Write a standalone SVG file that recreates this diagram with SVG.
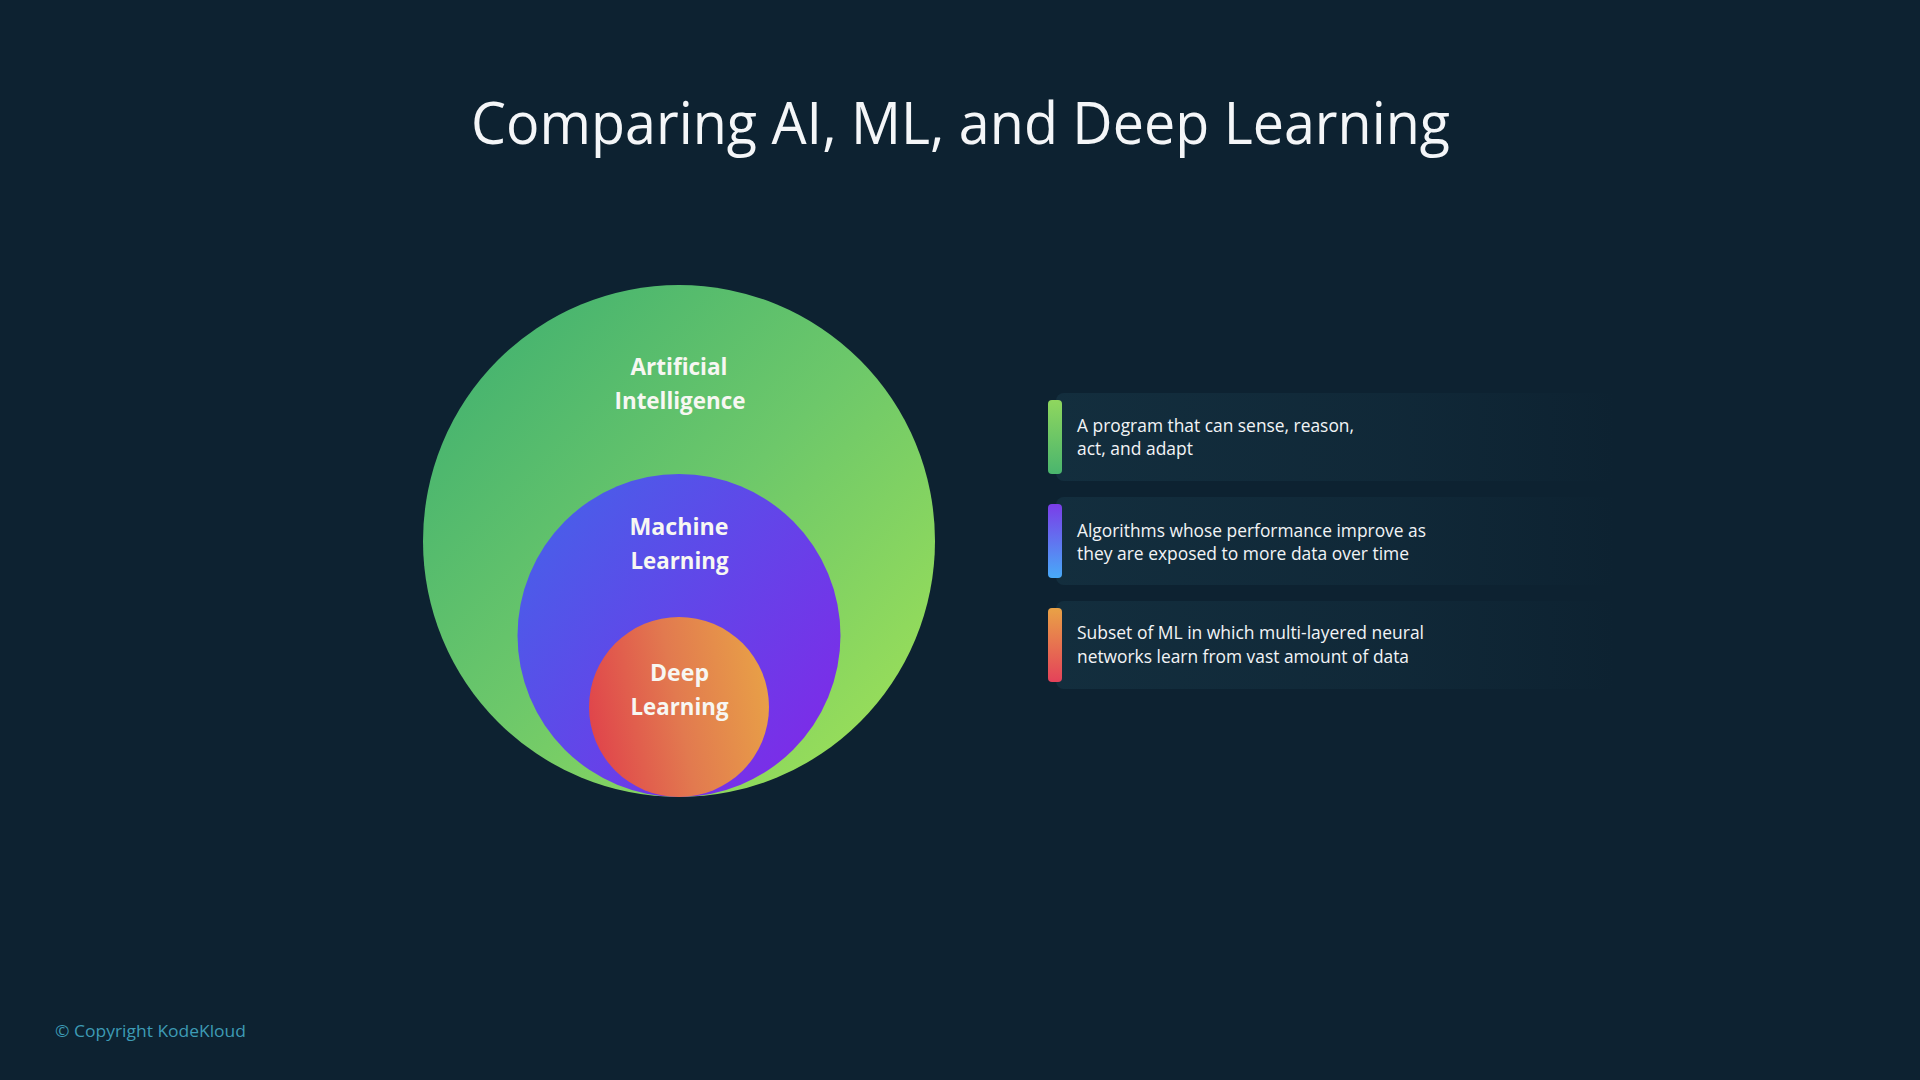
<svg xmlns="http://www.w3.org/2000/svg" width="1920" height="1080" viewBox="0 0 1920 1080">
  <defs>
    <linearGradient id="gAI" x1="0.15" y1="0.1" x2="0.9" y2="0.85">
      <stop offset="0" stop-color="#47b46f"/>
      <stop offset="0.5" stop-color="#6dc86a"/>
      <stop offset="1" stop-color="#97dd5a"/>
    </linearGradient>
    <linearGradient id="gML" x1="0.1" y1="0.15" x2="0.9" y2="0.8">
      <stop offset="0" stop-color="#4a5de9"/>
      <stop offset="1" stop-color="#7a2ee8"/>
    </linearGradient>
    <linearGradient id="gDL" x1="0" y1="0.6" x2="1" y2="0.4">
      <stop offset="0" stop-color="#e0444b"/>
      <stop offset="0.5" stop-color="#e27a4f"/>
      <stop offset="1" stop-color="#e8a047"/>
    </linearGradient>
    <linearGradient id="gBar1" x1="0" y1="0" x2="0" y2="1">
      <stop offset="0" stop-color="#8fd75e"/>
      <stop offset="1" stop-color="#4ab56e"/>
    </linearGradient>
    <linearGradient id="gBar2" x1="0" y1="0" x2="0" y2="1">
      <stop offset="0" stop-color="#7a3de8"/>
      <stop offset="1" stop-color="#48aaf8"/>
    </linearGradient>
    <linearGradient id="gBar3" x1="0" y1="0" x2="0" y2="1">
      <stop offset="0" stop-color="#e9a246"/>
      <stop offset="1" stop-color="#e4425a"/>
    </linearGradient>
    <linearGradient id="gCard" x1="0" y1="0" x2="1" y2="0">
      <stop offset="0" stop-color="#153242" stop-opacity="0.75"/>
      <stop offset="0.6" stop-color="#153242" stop-opacity="0.4"/>
      <stop offset="1" stop-color="#153242" stop-opacity="0"/>
    </linearGradient>
  </defs>
  <style>
    .title { font-family: "Open Sans", "Liberation Sans", sans-serif; font-size: 59px; fill: #f4f6f8; }
    .lbl { font-family: "Open Sans", "Liberation Sans", sans-serif; font-size: 22.5px; font-weight: 700; fill: #f7f7f2; text-anchor: middle; }
    .desc { font-family: "Open Sans", "Liberation Sans", sans-serif; font-size: 18px; fill: #f2f4f6; }
    .copy { font-family: "Open Sans", "Liberation Sans", sans-serif; font-size: 16.5px; fill: #3d9bb5; }
  </style>
  <rect width="1920" height="1080" fill="#0d2231"/>

  <text class="title" x="471" y="144" textLength="979" lengthAdjust="spacingAndGlyphs">Comparing AI, ML, and Deep Learning</text>

  <g id="node-ai">
    <circle cx="679" cy="541" r="256" fill="url(#gAI)"/>
    <text class="lbl" x="679" y="375" textLength="97" lengthAdjust="spacingAndGlyphs">Artificial</text>
    <text class="lbl" x="680" y="408.5" textLength="131" lengthAdjust="spacingAndGlyphs">Intelligence</text>
  </g>
  <g id="node-ml">
    <circle cx="679" cy="635.5" r="161.5" fill="url(#gML)"/>
    <text class="lbl" x="679" y="535" textLength="99" lengthAdjust="spacingAndGlyphs">Machine</text>
    <text class="lbl" x="679.5" y="569" textLength="98" lengthAdjust="spacingAndGlyphs">Learning</text>
  </g>
  <g id="node-dl">
    <circle cx="679" cy="707" r="90" fill="url(#gDL)"/>
    <text class="lbl" x="679.5" y="681" textLength="59" lengthAdjust="spacingAndGlyphs">Deep</text>
    <text class="lbl" x="679.5" y="715" textLength="98" lengthAdjust="spacingAndGlyphs">Learning</text>
  </g>

  <g id="connectors"></g>

  <g id="card-ai">
    <rect x="1056" y="393" width="560" height="88" rx="8" fill="url(#gCard)"/>
    <rect x="1048" y="400" width="14" height="74" rx="4" fill="url(#gBar1)"/>
    <text class="desc" x="1077" y="431.7" textLength="277" lengthAdjust="spacingAndGlyphs">A program that can sense, reason,</text>
    <text class="desc" x="1077" y="455" textLength="116" lengthAdjust="spacingAndGlyphs">act, and adapt</text>
  </g>
  <g id="card-ml">
    <rect x="1056" y="497" width="560" height="88" rx="8" fill="url(#gCard)"/>
    <rect x="1048" y="504" width="14" height="74" rx="4" fill="url(#gBar2)"/>
    <text class="desc" x="1077" y="536.7" textLength="349" lengthAdjust="spacingAndGlyphs">Algorithms whose performance improve as</text>
    <text class="desc" x="1077" y="560" textLength="332" lengthAdjust="spacingAndGlyphs">they are exposed to more data over time</text>
  </g>
  <g id="card-dl">
    <rect x="1056" y="601" width="560" height="88" rx="8" fill="url(#gCard)"/>
    <rect x="1048" y="608" width="14" height="74" rx="4" fill="url(#gBar3)"/>
    <text class="desc" x="1077" y="639.3" textLength="347" lengthAdjust="spacingAndGlyphs">Subset of ML in which multi-layered neural</text>
    <text class="desc" x="1077" y="663.3" textLength="332" lengthAdjust="spacingAndGlyphs">networks learn from vast amount of data</text>
  </g>

  <text class="copy" x="55" y="1036.5" textLength="191" lengthAdjust="spacingAndGlyphs">© Copyright KodeKloud</text>
</svg>
